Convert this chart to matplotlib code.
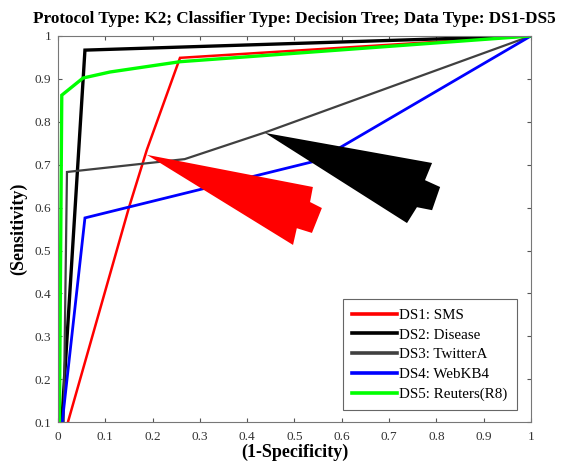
import numpy as np
import matplotlib.pyplot as plt
from matplotlib.patches import Polygon

# ROC points (1-specificity, sensitivity)
ds1_x = [0.021, 0.15, 0.188, 0.258, 1.0]
ds1_y = [0.1, 0.60, 0.735, 0.949, 1.0]
ds2_x = [0.008, 0.057, 1.0]
ds2_y = [0.1, 0.967, 1.0]
ds3_x = [0.012, 0.019, 0.268, 0.44, 1.0]
ds3_y = [0.1, 0.683, 0.713, 0.776, 1.0]
ds4_x = [0.009, 0.057, 0.55, 1.0]
ds4_y = [0.1, 0.576, 0.71, 1.0]
ds5_x = [0.003, 0.008, 0.053, 0.11, 0.258, 1.0]
ds5_y = [0.1, 0.862, 0.902, 0.916, 0.94, 1.0]

names = ['DS1: SMS', 'DS2: Disease', 'DS3: TwitterA', 'DS4: WebKB4', 'DS5: Reuters(R8)']
colors = ['#ff0000', '#000000', '#404040', '#0000ff', '#00ff00']
widths = [1.8, 2.4, 1.6, 2.0, 2.4]

# arrow outlines (data coords)
red_arrow_x = [0.188, 0.539, 0.533, 0.558, 0.537, 0.505, 0.497]
red_arrow_y = [0.723, 0.648, 0.613, 0.599, 0.541, 0.552, 0.513]
black_arrow_x = [0.438, 0.791, 0.776, 0.808, 0.791, 0.759, 0.738]
black_arrow_y = [0.774, 0.704, 0.664, 0.648, 0.594, 0.601, 0.564]

xticks = np.round(np.arange(0, 1.01, 0.1), 1)
yticks = np.round(np.arange(0.1, 1.01, 0.1), 1)

plt.rcParams['font.family'] = ['Liberation Serif', 'DejaVu Serif']

fig = plt.figure(figsize=(5.63, 4.67), dpi=100)
ax = fig.add_axes([0.103, 0.096, 0.84, 0.827])

series = [(ds1_x, ds1_y), (ds2_x, ds2_y), (ds3_x, ds3_y), (ds4_x, ds4_y), (ds5_x, ds5_y)]
for (x, y), name, c, w in zip(series, names, colors, widths):
    ax.plot(x, y, color=c, linewidth=w, label=name, solid_joinstyle='miter')

ax.add_patch(Polygon(np.column_stack([red_arrow_x, red_arrow_y]), closed=True,
                     facecolor='#ff0000', edgecolor='none', zorder=5))
ax.add_patch(Polygon(np.column_stack([black_arrow_x, black_arrow_y]), closed=True,
                     facecolor='#000000', edgecolor='none', zorder=5))

ax.set_xlim(0, 1)
ax.set_ylim(0.1, 1)
ax.set_xticks(xticks)
ax.set_yticks(yticks)
ax.set_xticklabels([('%g' % t) for t in xticks])
ax.set_yticklabels([('%g' % t) for t in yticks])
ax.tick_params(direction='in', top=True, right=True, labelsize=9.5,
               colors='#555555', labelcolor='#333333', length=3)
ax.tick_params(axis='x', pad=6)
ax.tick_params(axis='y', pad=5)
for s in ax.spines.values():
    s.set_color('#777777')
    s.set_linewidth(0.8)

ax.set_xlabel('(1-Specificity)', fontsize=13, fontweight='bold', labelpad=1)
ax.set_ylabel('(Sensitivity)', fontsize=13, fontweight='bold', labelpad=5)
ax.set_title('Protocol Type: K2; Classifier Type: Decision Tree; Data Type: DS1-DS5',
             fontsize=12.3, fontweight='bold', pad=9)

leg = ax.legend(loc='lower right', bbox_to_anchor=(0.97, 0.031), fontsize=10.8,
                handlelength=3.0, handletextpad=0.15, borderpad=0.6,
                labelspacing=0.42, fancybox=False, framealpha=1, borderaxespad=0)
leg.get_frame().set_edgecolor('#666666')
leg.get_frame().set_linewidth(0.8)
for line in leg.get_lines():
    line.set_linewidth(2.6)

fig.savefig('out.png', dpi=100)
